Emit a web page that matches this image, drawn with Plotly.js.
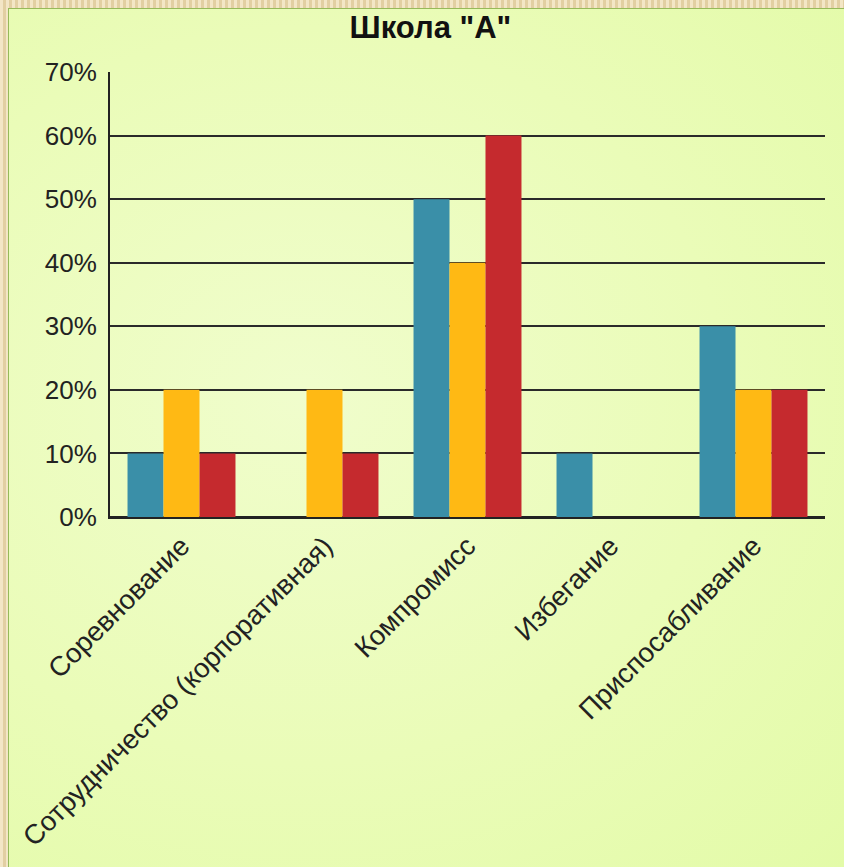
<!DOCTYPE html>
<html>
<head>
<meta charset="utf-8">
<script src="https://cdn.plot.ly/plotly-3.0.1.min.js"></script>
<style>
html, body { margin:0; padding:0; width:844px; height:867px; overflow:hidden; }
body {
  background-color:#ecdcb4;
  background-image: repeating-linear-gradient(90deg, #f3e6c6 0px, #f3e6c6 3px, #e2cfa2 3px, #e2cfa2 6px);
}
#frame {
  position:absolute; left:8px; top:8px; width:836px; height:859px;
  border-left:1px solid #97b95a; border-top:1px solid #97b95a;
  background: radial-gradient(ellipse at 35% 45%, #f0fdcc 0%, #eafcb8 55%, #e3fba8 100%);
}
#chart { position:absolute; left:-9px; top:-9px; width:844px; height:867px; }
</style>
</head>
<body>
<div id="frame"><div id="chart"></div></div>
<script>
const categories = ["Соревнование", "Сотрудничество (корпоративная)", "Компромисс", "Избегание", "Приспосабливание"];
const seriesA = [10, 0, 50, 10, 30];
const seriesB = [20, 20, 40, 0, 20];
const seriesC = [10, 10, 60, 0, 20];
const seriesNames = ["Ряд 1", "Ряд 2", "Ряд 3"];
const colors = ["#3a8fa8", "#ffb914", "#c52a2e"];
const yTicks = [0, 10, 20, 30, 40, 50, 60, 70];

const data = [seriesA, seriesB, seriesC].map((v, i) => ({
  type: "bar", x: categories, y: v, name: seriesNames[i],
  marker: { color: colors[i] }
}));

const layout = {
  width: 844, height: 867,
  paper_bgcolor: "rgba(0,0,0,0)", plot_bgcolor: "rgba(0,0,0,0)",
  margin: { l: 110, r: 19, t: 72, b: 350 },
  showlegend: false,
  barmode: "group", bargap: 0.245, bargroupgap: 0,
  title: { text: "<b>Школа \"А\"</b>", x: 0.51, xref: "container", xanchor: "center",
           y: 0.969, yref: "container", yanchor: "middle",
           font: { family: "Liberation Sans, Arial, sans-serif", size: 31, color: "#111" } },
  font: { family: "Liberation Sans, Arial, sans-serif", color: "#222" },
  xaxis: {
    tickangle: -45, tickfont: { size: 27.5, color: "#222" },
    showline: true, linecolor: "#222", linewidth: 2, ticks: "", showgrid: false,
    automargin: false
  },
  yaxis: {
    range: [0, 70], tickvals: yTicks, ticktext: yTicks.map(v => v + "%"),
    tickfont: { size: 26, color: "#222" }, ticklabelstandoff: 6,
    showgrid: true, gridcolor: "#2a2a2a", gridwidth: 2,
    zeroline: true, zerolinecolor: "#222", zerolinewidth: 2,
    showline: true, linecolor: "#222", linewidth: 2, ticks: "", ticklen: 0,
    automargin: false
  }
};
Plotly.newPlot("chart", data, layout, { displayModeBar: false, staticPlot: true });
</script>
</body>
</html>
